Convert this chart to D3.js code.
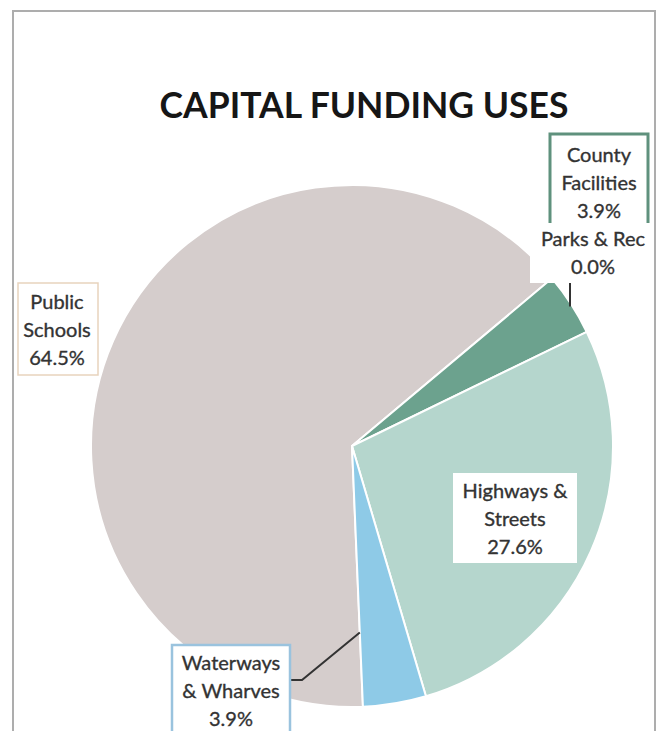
<!DOCTYPE html>
<html>
<head>
<meta charset="utf-8">
<script src="https://cdn.jsdelivr.net/npm/d3@7"></script>
<style>
  html, body { margin: 0; padding: 0; background: #fff; }
  svg { display: block; }
  text { font-family: Lato, "Open Sans", sans-serif; }
</style>
</head>
<body>
<svg id="chart" width="658" height="731"></svg>
<script>
// Capital funding uses, share of total (%)
const categories = ["Public Schools", "County Facilities", "Parks & Rec", "Highways & Streets", "Waterways & Wharves"];
const values = [64.5, 3.9, 0.0, 27.6, 3.9];
const labelLines = [["Public", "Schools"], ["County", "Facilities"], ["Parks & Rec"], ["Highways &", "Streets"], ["Waterways", "& Wharves"]];
const colors = ["#d5cdcc", "#6ca28e", "#8fb8a8", "#b5d6cd", "#8ecae7"];
const title = "CAPITAL FUNDING USES";

const W = 658, H = 731;
const cx = 352, cy = 446, R = 261;
const rotationDeg = 177.6;

const svg = d3.select("#chart");

// chart frame
svg.append("rect")
  .attr("x", 13).attr("y", 11).attr("width", 642).attr("height", H + 20)
  .attr("fill", "#fff").attr("stroke", "#adadad").attr("stroke-width", 2);

svg.append("text")
  .attr("x", 364).attr("y", 118)
  .attr("text-anchor", "middle")
  .attr("font-size", 35.5).attr("font-weight", 700)
  .attr("fill", "#161616")
  .text(title);

const data = categories.map((c, i) => ({ name: c, value: values[i], lines: labelLines[i], color: colors[i] }));

const start = rotationDeg * Math.PI / 180;
const pie = d3.pie().sort(null).value(d => d.value).startAngle(start).endAngle(start + 2 * Math.PI);
const arcs = pie(data);
const arc = d3.arc().innerRadius(0).outerRadius(R);

const g = svg.append("g").attr("transform", `translate(${cx},${cy})`);
g.selectAll("path").data(arcs.filter(a => a.data.value > 0)).join("path")
  .attr("d", arc)
  .attr("fill", d => d.data.color)
  .attr("stroke", "#fff").attr("stroke-width", 2).attr("stroke-linejoin", "round");

const pct = d3.format(".1f");
const byName = Object.fromEntries(arcs.map(a => [a.data.name, a]));

// point on the pie at angle a (clockwise from 12 o'clock), radius r
const polar = (a, r) => [cx + r * Math.sin(a), cy - r * Math.cos(a)];

// label boxes: [x, y, w, h], border colour / width, text centre x, first baseline
const layout = {
  "Public Schools":      { box: [18, 283, 80, 92], stroke: "#e8d3bd", sw: 1.5, tx: 57, ty: 309 },
  "County Facilities":   { box: [550, 134, 98, 100], stroke: "#5f917d", sw: 3, tx: 599, ty: 162 },
  "Parks & Rec":         { box: [530, 223, 124, 60], stroke: "none", sw: 0, tx: 593, ty: 246 },
  "Highways & Streets":  { box: [453, 473, 124, 90], stroke: "none", sw: 0, tx: 515, ty: 498 },
  "Waterways & Wharves": { box: [172, 645, 118, 100], stroke: "#9ac3de", sw: 2.5, tx: 231, ty: 670 }
};
const lineH = 28;

// leader lines
const lead = svg.append("g").attr("stroke", "#333").attr("stroke-width", 2).attr("fill", "none");
{
  // Parks & Rec: straight down from the label to the rim
  const lx = 570;
  const ly = cy - Math.sqrt(R * R - (lx - cx) * (lx - cx));
  lead.append("line").attr("x1", lx).attr("y1", 283).attr("x2", lx).attr("y2", ly + 4);
  // Waterways & Wharves: elbow from the label into the slice
  const a = byName["Waterways & Wharves"];
  const p = polar(a.endAngle, R * 0.715);
  const b = layout["Waterways & Wharves"].box;
  const yb = 680;
  lead.append("polyline").attr("points", [[b[0] + b[2], yb], [b[0] + b[2] + 12, yb], p].map(q => q.join(",")).join(" "));
}

const labels = svg.append("g");
data.forEach(d => {
  const L = layout[d.name];
  const grp = labels.append("g");
  grp.append("rect")
    .attr("x", L.box[0]).attr("y", L.box[1]).attr("width", L.box[2]).attr("height", L.box[3])
    .attr("fill", "#fff").attr("stroke", L.stroke).attr("stroke-width", L.sw);
  const t = grp.append("text").attr("text-anchor", "middle").attr("font-size", 20)
    .attr("fill", "#333").attr("stroke", "#333").attr("stroke-width", 0.35);
  d.lines.concat([pct(d.value) + "%"]).forEach((s, i) => {
    t.append("tspan").attr("x", L.tx).attr("y", L.ty + i * lineH).text(s);
  });
});
// Parks & Rec label sits over the bottom of the County Facilities box
labels.selectAll("g").filter((d, i) => data[i].name === "Parks & Rec").raise();
</script>
</body>
</html>
